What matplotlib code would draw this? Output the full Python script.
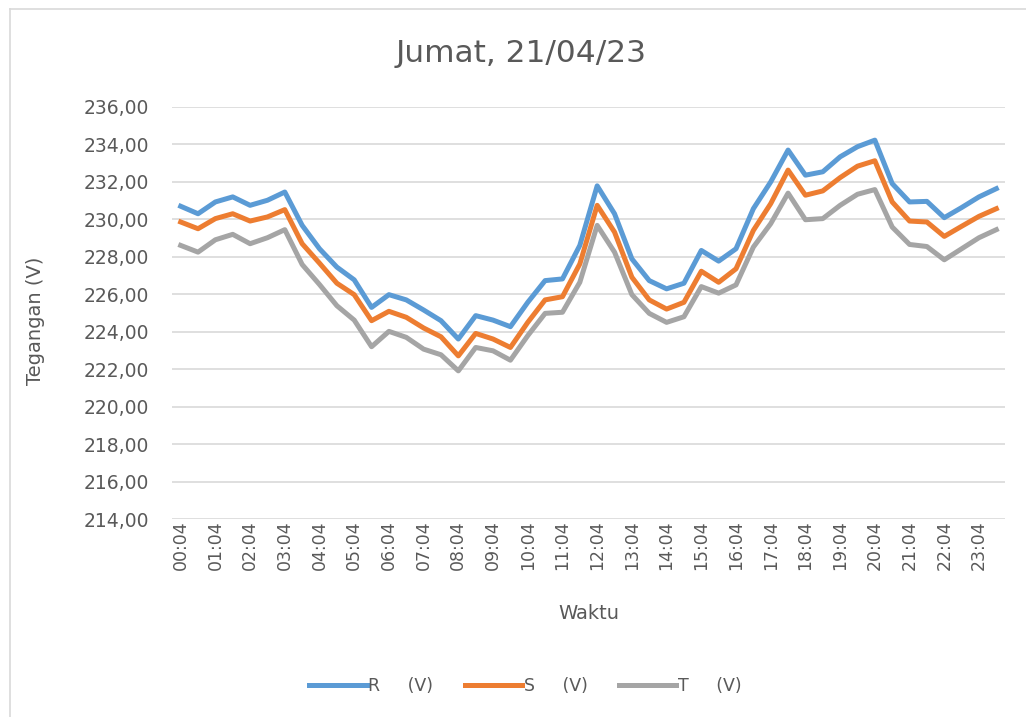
import matplotlib
matplotlib.use("Agg")
import matplotlib.pyplot as plt
from matplotlib.lines import Line2D
from matplotlib.ticker import FuncFormatter

plt.rcParams['font.family'] = ['DejaVu Sans']

# data (48 readings, every 30 minutes)
waktu = ["00:04", "00:34", "01:04", "01:34", "02:04", "02:34", "03:04", "03:34",
         "04:04", "04:34", "05:04", "05:34", "06:04", "06:34", "07:04", "07:34",
         "08:04", "08:34", "09:04", "09:34", "10:04", "10:34", "11:04", "11:34",
         "12:04", "12:34", "13:04", "13:34", "14:04", "14:34", "15:04", "15:34",
         "16:04", "16:34", "17:04", "17:34", "18:04", "18:34", "19:04", "19:34",
         "20:04", "20:34", "21:04", "21:34", "22:04", "22:34", "23:04", "23:34"]

r_volt = [230.70, 230.30, 230.93, 231.20, 230.75, 231.02, 231.46, 229.68,
          228.43, 227.45, 226.77, 225.30, 225.98, 225.70, 225.16, 224.59,
          223.61, 224.86, 224.62, 224.27, 225.57, 226.73, 226.82, 228.61,
          231.79, 230.30, 227.89, 226.73, 226.29, 226.59, 228.34, 227.77,
          228.43, 230.57, 232.00, 233.70, 232.36, 232.54, 233.34, 233.88,
          234.23, 231.91, 230.93, 230.96, 230.09, 230.63, 231.20, 231.64]

s_volt = [229.86, 229.50, 230.04, 230.30, 229.91, 230.13, 230.52, 228.70,
          227.66, 226.59, 225.98, 224.59, 225.09, 224.77, 224.20, 223.73,
          222.71, 223.91, 223.61, 223.16, 224.50, 225.70, 225.87, 227.62,
          230.75, 229.32, 226.91, 225.70, 225.21, 225.57, 227.23, 226.64,
          227.36, 229.41, 230.84, 232.63, 231.29, 231.52, 232.23, 232.84,
          233.13, 230.93, 229.91, 229.86, 229.09, 229.63, 230.16, 230.57]

t_volt = [228.61, 228.25, 228.91, 229.20, 228.70, 229.02, 229.45, 227.59,
          226.52, 225.39, 224.62, 223.20, 224.02, 223.70, 223.07, 222.77,
          221.91, 223.16, 222.98, 222.48, 223.79, 224.98, 225.04, 226.64,
          229.68, 228.25, 225.98, 224.98, 224.50, 224.80, 226.41, 226.06,
          226.50, 228.52, 229.77, 231.40, 229.98, 230.04, 230.75, 231.34,
          231.59, 229.59, 228.66, 228.55, 227.84, 228.43, 229.02, 229.45]

txt = '#595959'

fig = plt.figure(figsize=(10.26, 7.17), dpi=100)
ax = fig.add_axes([172/1026, 198/717, 833/1026, 412/717])

x = list(range(len(waktu)))
ax.plot(x, r_volt, color='#5B9BD5', lw=3.6, label='R     (V)', solid_joinstyle='round')
ax.plot(x, s_volt, color='#ED7D31', lw=3.6, label='S     (V)', solid_joinstyle='round')
ax.plot(x, t_volt, color='#A5A5A5', lw=3.6, label='T     (V)', solid_joinstyle='round')

ax.set_xlim(-0.5, len(waktu) - 0.5)
ax.set_ylim(214, 236)
ax.set_yticks(range(214, 237, 2))
ax.yaxis.set_major_formatter(FuncFormatter(lambda v, p: f"{v:.2f}".replace('.', ',')))
ax.set_xticks(x[::2])
ax.set_xticklabels(waktu[::2], rotation=90)
ax.grid(axis='y', color='#D9D9D9', lw=1.2)
ax.set_axisbelow(True)
for s in ax.spines.values():
    s.set_visible(False)
ax.tick_params(axis='both', length=0, colors=txt)
ax.tick_params(axis='y', labelsize=13.5, pad=16.5)
ax.tick_params(axis='x', labelsize=12.5, pad=1)

fig.text(0.508, 0.926, 'Jumat, 21/04/23', fontsize=22.5, color=txt, ha='center', va='center')
ax.set_xlabel('Waktu', fontsize=14, color=txt)
ax.set_ylabel('Tegangan (V)', fontsize=14, color=txt)
ax.xaxis.set_label_coords(0.5, -0.206)
ax.yaxis.set_label_coords(-0.152, 0.48)

leg = fig.legend(loc='center', bbox_to_anchor=(0.512, 0.043), ncol=3, frameon=False,
                 fontsize=12.5, handlelength=3.3, columnspacing=1.8, handletextpad=0.1)
for t in leg.get_texts():
    t.set_color(txt)

# chart area border: only the top and left edges are inside the picture
bx, by = 9.5/1026, 1 - 8.5/717
fig.add_artist(Line2D([bx, 1.0], [by, by], transform=fig.transFigure, color='#D9D9D9', lw=1.2))
fig.add_artist(Line2D([bx, bx], [0.0, by], transform=fig.transFigure, color='#D9D9D9', lw=1.2))

fig.savefig('out.png', dpi=100)
